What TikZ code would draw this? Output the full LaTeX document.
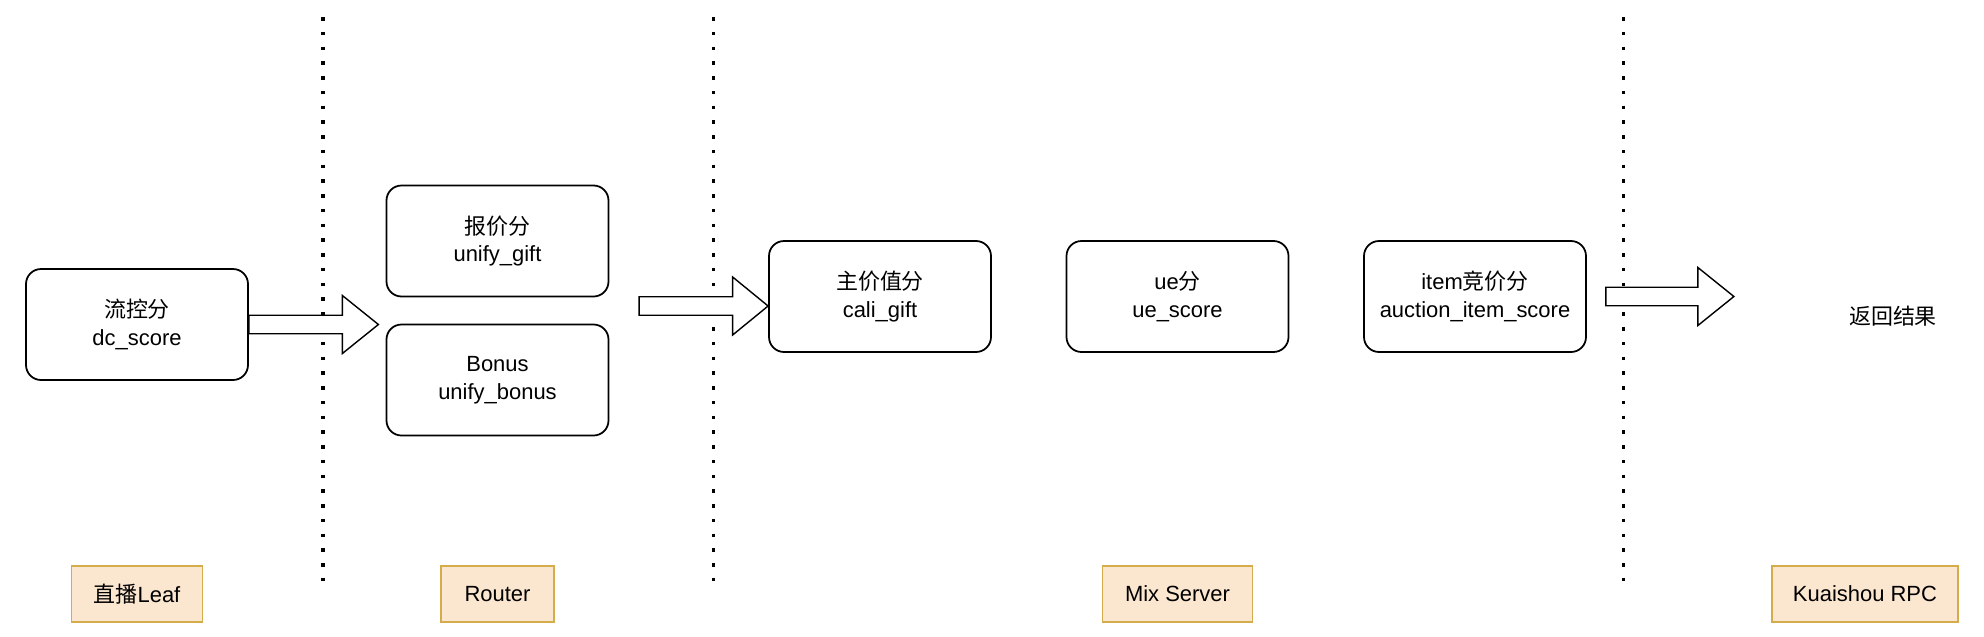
\documentclass[tikz,border=0pt]{standalone}
\usepackage{fontspec}
\setmainfont{Liberation Sans}
\newfontfamily\cjk{Noto Sans CJK SC}
\usepackage{tikz}
\usetikzlibrary{positioning}
\definecolor{tierfill}{HTML}{FBE6CF}
\definecolor{tierline}{HTML}{D4AC4C}
\tikzstyle{score} = [rectangle, rounded corners=0.3cm, minimum width=4.44cm, minimum height=2.22cm, align=center, draw=black, line width=1pt, font=\fontsize{12.5}{15.9}\selectfont]
\tikzstyle{tier} = [rectangle, minimum height=1.12cm, draw=tierline, fill=tierfill, line width=1.1pt, font=\fontsize{12.5}{15}\selectfont]
\tikzstyle{blockarrow} = [draw=black, line width=0.8pt, fill=white, line join=miter]
\tikzstyle{divider} = [line width=2pt, dash pattern=on 2pt off 6.4pt]

\begin{document}
\begin{tikzpicture}[node distance=5.95cm]
\useasboundingbox (0,0) rectangle (39.68,-12.72);

\node (dc) [score] at (2.74,-6.49) {{\cjk 流控分}\\dc\_score};
\node (gift) [score] at (9.95,-4.82) {{\cjk 报价分}\\unify\_gift};
\node (bonus) [score, below of=gift, node distance=2.78cm] {Bonus\\unify\_bonus};
\node (cali) [score] at (17.6,-5.93) {{\cjk 主价值分}\\cali\_gift};
\node (ue) [score, right of=cali] {ue{\cjk 分}\\ue\_score};
\node (item) [score, right of=ue] {item{\cjk 竞价分}\\auction\_item\_score};
\node (result) at (37.86,-6.32) {\fontsize{12.5}{15}\selectfont\cjk 返回结果};

% layers
\coordinate (base) at (0,-11.88);
\node (leaf) [tier, minimum width=2.62cm] at (dc |- base) {{\cjk 直播}Leaf};
\node (router) [tier, minimum width=2.26cm] at (gift |- base) {Router};
\node (mix) [tier, minimum width=3.0cm] at (ue |- base) {Mix Server};
\node (rpc) [tier, minimum width=3.72cm] at (37.3,-11.88) {Kuaishou RPC};

\draw [divider] (6.46,-0.34) -- (6.46,-11.68);
\draw [divider] (14.27,-0.34) -- (14.27,-11.68);
\draw [divider] (32.47,-0.34) -- (32.47,-11.68);

% block arrows
\coordinate (in2) at ([yshift=-0.19cm]cali.west);
\coordinate (out3) at ([xshift=0.38cm]item.east);
\draw [blockarrow] (dc.east) ++(0,0.185) -- ++(1.87,0) -- ++(0,0.395) -- ++(0.72,-0.58) -- ++(-0.72,-0.58) -- ++(0,0.395) -- ++(-1.87,0) -- cycle;
\draw [blockarrow] (in2) -- ++(-0.71,0.58) -- ++(0,-0.395) -- ++(-1.87,0) -- ++(0,-0.37) -- ++(1.87,0) -- ++(0,-0.395) -- cycle;
\draw [blockarrow] (out3) ++(0,0.185) -- ++(1.84,0) -- ++(0,0.395) -- ++(0.72,-0.58) -- ++(-0.72,-0.58) -- ++(0,0.395) -- ++(-1.84,0) -- cycle;

\end{tikzpicture}
\end{document}
